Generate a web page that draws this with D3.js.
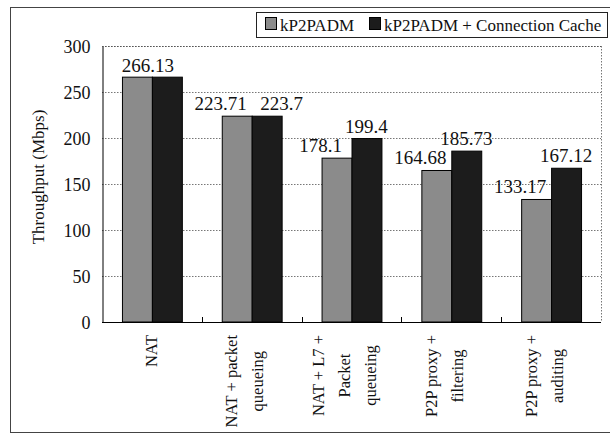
<!DOCTYPE html>
<html>
<head>
<meta charset="utf-8">
<script src="https://cdn.jsdelivr.net/npm/d3@7"></script>
<style>
  body { margin: 0; background: #fff; }
</style>
</head>
<body>
<div id="chart"></div>
<script>
// categories (x axis), one entry per line of the rotated label
const categories = [
  ["NAT"],
  ["NAT + packet", "queueing"],
  ["NAT + L7 +", "Packet", "queueing"],
  ["P2P proxy +", "filtering"],
  ["P2P proxy +", "auditing"]
];
const seriesNames = ["kP2PADM", "kP2PADM + Connection Cache"];
const kp2padm = [266.13, 223.71, 178.1, 164.68, 133.17];
const kp2padmCache = [266.13, 223.7, 199.4, 185.73, 167.12];
const yTicks = [0, 50, 100, 150, 200, 250, 300];

const width = 610, height = 434;
const margin = {left: 102, right: 9, top: 46, bottom: 112};
const colors = ["#8b8b8b", "#1c1c1c"];
const serif = "Liberation Serif";

const svg = d3.select("#chart").append("svg")
  .attr("width", width).attr("height", height)
  .attr("font-family", serif);

// outer frame of the figure
svg.append("rect")
  .attr("x", 10.5).attr("y", 7.5)
  .attr("width", 620).attr("height", 425)
  .attr("fill", "none").attr("stroke", "#444").attr("stroke-width", 1);

const x0 = d3.scaleBand()
  .domain(d3.range(categories.length))
  .range([margin.left, width - margin.right]);
const x1 = d3.scaleBand()
  .domain([0, 1])
  .range([x0.bandwidth() * 0.2, x0.bandwidth() * 0.8]);
const y = d3.scaleLinear()
  .domain([0, 300])
  .range([height - margin.bottom, margin.top]);

// gridlines (dotted)
svg.append("g")
  .selectAll("line")
  .data(yTicks.filter(d => d > 0))
  .join("line")
  .attr("x1", margin.left).attr("x2", width - margin.right)
  .attr("y1", d => Math.round(y(d)) + 0.5).attr("y2", d => Math.round(y(d)) + 0.5)
  .attr("stroke", "#777").attr("stroke-dasharray", "1.5,1.5");
// right border (dotted)
svg.append("line")
  .attr("x1", width - margin.right + 0.5).attr("x2", width - margin.right + 0.5)
  .attr("y1", y(300)).attr("y2", y(0))
  .attr("stroke", "#777").attr("stroke-dasharray", "1.5,1.5");

// bars
const rows = categories.map((c, i) => ({i, vals: [kp2padm[i], kp2padmCache[i]]}));
const groups = svg.append("g").selectAll("g")
  .data(rows).join("g")
  .attr("transform", d => `translate(${x0(d.i)},0)`);
groups.selectAll("rect")
  .data(d => d.vals.map((v, k) => ({v, k})))
  .join("rect")
  .attr("x", d => x1(d.k) + 0.5)
  .attr("y", d => y(d.v))
  .attr("width", x1.bandwidth())
  .attr("height", d => y(0) - y(d.v))
  .attr("fill", d => colors[d.k])
  .attr("stroke", "#000").attr("stroke-width", 1);

function txt(sel) {
  return sel.attr("font-family", serif).attr("fill", "#111");
}

// value labels (pushed apart when they would collide)
groups.each(function(d) {
  const g = d3.select(this);
  if (d.vals[0] === d.vals[1]) {
    txt(g.append("text"))
      .attr("x", x0.bandwidth() / 2 - 4)
      .attr("y", y(d.vals[0]) - 5)
      .attr("text-anchor", "middle").attr("font-size", 19)
      .text(d.vals[0]);
  } else {
    const close = Math.abs(y(d.vals[0]) - y(d.vals[1])) < 18;
    d.vals.forEach((v, k) => {
      const shift = k === 0 ? -16 : (close ? 15 : 0);
      txt(g.append("text"))
        .attr("x", x1(k) + x1.bandwidth() / 2 + shift)
        .attr("y", y(v) - 6)
        .attr("text-anchor", "middle").attr("font-size", 19)
        .text(v);
    });
  }
});

// y axis
const yAxis = svg.append("g")
  .attr("transform", `translate(${margin.left + 0.5},0)`)
  .call(d3.axisLeft(y).tickValues(yTicks).tickSize(0).tickPadding(12));
yAxis.attr("font-family", serif);
yAxis.select(".domain").attr("stroke", "#000");
txt(yAxis.selectAll("text"))
  .attr("font-size", 18)
  .attr("dy", "0.35em");

// top border dotted
svg.append("line")
  .attr("x1", margin.left).attr("x2", width - margin.right)
  .attr("y1", y(300) + 0.5).attr("y2", y(300) + 0.5)
  .attr("stroke", "#555").attr("stroke-dasharray", "1.5,1.5");

// x axis line with small inner ticks between groups
svg.append("line")
  .attr("x1", margin.left).attr("x2", width - margin.right)
  .attr("y1", y(0) + 0.5).attr("y2", y(0) + 0.5)
  .attr("stroke", "#000");
svg.append("g").selectAll("line")
  .data(d3.range(1, categories.length))
  .join("line")
  .attr("x1", i => Math.round(x0(i)) + 0.5).attr("x2", i => Math.round(x0(i)) + 0.5)
  .attr("y1", y(0) - 5).attr("y2", y(0))
  .attr("stroke", "#000");

// category labels, rotated, block aligned at top under the axis
const lineStep = 26;
categories.forEach((lines, i) => {
  const cx = x0(i) + x0.bandwidth() / 2 - (lines.length > 1 ? 7 : 0);
  const g = svg.append("g");
  const texts = lines.map((t, j) => txt(g.append("text"))
    .attr("font-size", 16.5)
    .attr("text-anchor", "middle")
    .attr("dominant-baseline", "central")
    .text(t));
  const maxLen = d3.max(texts, t => t.node().getComputedTextLength());
  const cy = y(0) + 13 + maxLen / 2;
  texts.forEach((t, j) => {
    const lx = cx + (j - (lines.length - 1) / 2) * lineStep;
    t.attr("transform", `translate(${lx},${cy}) rotate(-90)`);
  });
});

// y axis title
txt(svg.append("text"))
  .attr("transform", `translate(38,${(y(0) + y(300)) / 2 - 7}) rotate(-90)`)
  .attr("text-anchor", "middle")
  .attr("dominant-baseline", "central")
  .attr("font-size", 17)
  .text("Throughput (Mbps)");

// legend
const legend = svg.append("g");
legend.append("rect")
  .attr("x", 256.5).attr("y", 12.5).attr("width", 351).attr("height", 25)
  .attr("fill", "#fff").attr("stroke", "#222");
const legendX = [265, 369];
seriesNames.forEach((name, k) => {
  legend.append("rect")
    .attr("x", legendX[k] + 0.5).attr("y", 17.5)
    .attr("width", 11).attr("height", 12)
    .attr("fill", colors[k]).attr("stroke", "#000");
  txt(legend.append("text"))
    .attr("x", legendX[k] + 15).attr("y", 31)
    .attr("font-size", 17)
    .text(name);
});
</script>
</body>
</html>
